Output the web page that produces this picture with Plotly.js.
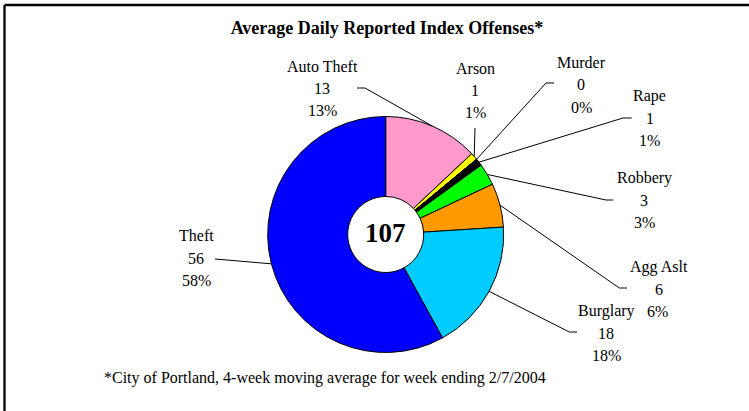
<!DOCTYPE html>
<html>
<head>
<meta charset="utf-8">
<script src="https://cdn.plot.ly/plotly-3.0.1.min.js"></script>
<style>
  html, body { margin: 0; padding: 0; background: #ffffff; }
  #chart { width: 749px; height: 411px; }
</style>
</head>
<body>
<div id="chart"></div>
<script>
// ---- data ----
const categories = ['Auto Theft', 'Arson', 'Murder', 'Rape', 'Robbery', 'Agg Aslt', 'Burglary', 'Theft'];
const counts = [13, 1, 0, 1, 3, 6, 18, 56];
const shares = [13, 1, 0, 1, 3, 6, 18, 58];
const shareLabels = ['13%', '1%', '0%', '1%', '3%', '6%', '18%', '58%'];
const totalLabel = '107';
const titleText = 'Average Daily Reported Index Offenses*';
const footnoteText = '*City of Portland, 4-week moving average for week ending 2/7/2004';

// ---- styles / layout (pixels) ----
const W = 749, H = 411;
const colors = ['#FF99CC', '#FFFF00', '#000000', '#000000', '#00FF00', '#FF9900', '#00CCFF', '#0000FF'];
const pieCx = 385.7, pieCy = 234.5, pieR = 118;
const holeFrac = 0.322;
const lineGap = 22.3;
const serif = 'Liberation Serif, Times New Roman, serif';
// label centre x, first-line y, elbow of leader line, end of leader line
const labelX = [322, 475, 581, 649.7, 644, 658.5, 606.3, 196.3];
const labelY = [66, 68, 62.7, 96, 178.3, 266.7, 311, 236];
const elbowX = [365, 475, 546, 623, 606, 619.3, 569.3, 215];
const elbowY = [88, 128, 83, 118, 200, 288, 332, 259];
const endX = [357, 475, 554, 631.7, 613.3, 627, 577, 215];
const endY = [88, 128, 83, 118, 200, 288, 332, 259];

const px = x => x / W;
const py = y => 1 - y / H;

const trace = {
  type: 'pie',
  labels: categories,
  values: shares,
  customdata: counts,
  sort: false,
  direction: 'clockwise',
  rotation: 0,
  hole: holeFrac,
  textinfo: 'none',
  hoverinfo: 'label+value',
  marker: { colors: colors, line: { color: '#000000', width: 1 } },
  domain: { x: [px(pieCx - pieR), px(pieCx + pieR)], y: [py(pieCy + pieR), py(pieCy - pieR)] },
  showlegend: false
};

const annotations = [];
const shapes = [];
const sum = shares.reduce((a, b) => a + b, 0);
let cum = 0;
categories.forEach((c, i) => {
  const mid = (cum + shares[i] / 2) / sum * 2 * Math.PI;
  cum += shares[i];
  const ex = pieCx + pieR * Math.sin(mid);
  const ey = pieCy - pieR * Math.cos(mid);
  shapes.push({
    type: 'path', xref: 'paper', yref: 'paper',
    path: `M ${px(ex)} ${py(ey)} L ${px(elbowX[i])} ${py(elbowY[i])} L ${px(endX[i])} ${py(endY[i])}`,
    line: { color: '#000000', width: 1 }
  });
  const lines = [c, String(counts[i]), shareLabels[i]];
  lines.forEach((t, k) => {
    let x = labelX[i], y = labelY[i] + k * lineGap;
    if (c === 'Agg Aslt' && k === 2) { x = 657; y = 311.7; }
    annotations.push({
      xref: 'paper', yref: 'paper', x: px(x), y: py(y),
      xanchor: 'center', yanchor: 'middle', showarrow: false,
      text: t, font: { family: serif, size: 16, color: '#000000' }
    });
  });
});

annotations.push({
  xref: 'paper', yref: 'paper', x: px(pieCx), y: py(233),
  xanchor: 'center', yanchor: 'middle', showarrow: false,
  text: '<b>' + totalLabel + '</b>', font: { family: serif, size: 27, color: '#000000' }
});
annotations.push({
  xref: 'paper', yref: 'paper', x: px(102), y: py(377.7),
  xanchor: 'left', yanchor: 'middle', showarrow: false,
  text: footnoteText, font: { family: serif, size: 16, color: '#000000' }
});

// frame (left and top edges visible)
shapes.push({ type: 'line', xref: 'paper', yref: 'paper', x0: px(4.5), y0: py(5), x1: px(760), y1: py(5), line: { color: '#000000', width: 2.3 } });
shapes.push({ type: 'line', xref: 'paper', yref: 'paper', x0: px(4.5), y0: py(5), x1: px(4.5), y1: py(420), line: { color: '#000000', width: 2.3 } });

const layout = {
  width: W, height: H,
  margin: { l: 0, r: 0, t: 0, b: 0 },
  paper_bgcolor: '#ffffff',
  font: { family: serif, color: '#000000' },
  title: {
    text: '<b>' + titleText + '</b>',
    font: { family: serif, size: 18, color: '#000000' },
    x: px(387), xanchor: 'center', y: py(28), yanchor: 'middle', xref: 'paper', yref: 'container'
  },
  showlegend: false,
  annotations: annotations,
  shapes: shapes
};

Plotly.newPlot('chart', [trace], layout, { displayModeBar: false, staticPlot: true });
</script>
</body>
</html>
